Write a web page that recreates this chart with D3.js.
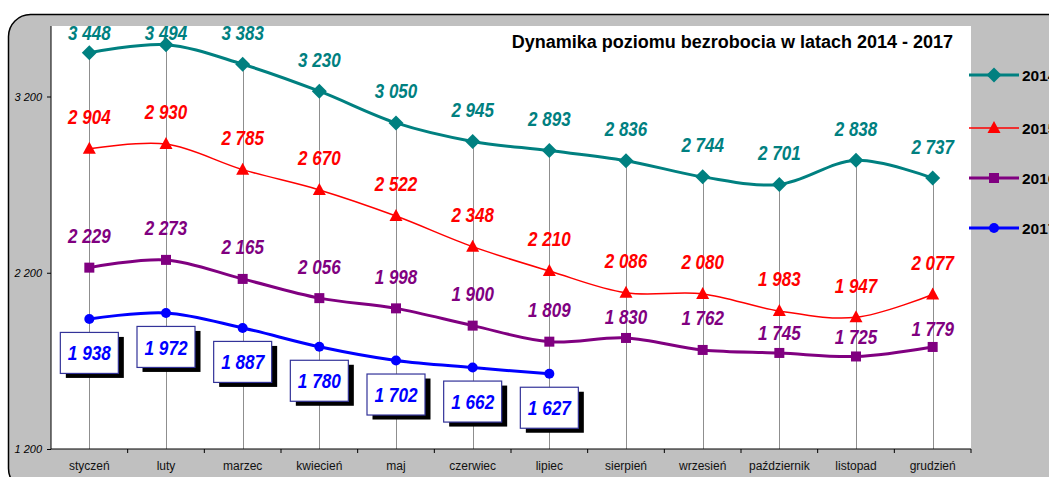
<!DOCTYPE html>
<html><head><meta charset="utf-8">
<script src="https://cdn.jsdelivr.net/npm/d3@7"></script>
<style>html,body{margin:0;padding:0;background:#fff;overflow:hidden}svg{display:block}</style>
</head><body>
<script>
const months = ["styczeń","luty","marzec","kwiecień","maj","czerwiec","lipiec","sierpień","wrzesień","październik","listopad","grudzień"];
const years = ["2014","2015","2016","2017"];
const v2014 = [3448,3494,3383,3230,3050,2945,2893,2836,2744,2701,2838,2737];
const v2015 = [2904,2930,2785,2670,2522,2348,2210,2086,2080,1983,1947,2077];
const v2016 = [2229,2273,2165,2056,1998,1900,1809,1830,1762,1745,1725,1779];
const v2017 = [1938,1972,1887,1780,1702,1662,1627];
const yTicks = [1200,2200,3200];
const title = "Dynamika poziomu bezrobocia w latach 2014 - 2017";

(function () {
const W = 1049, H = 477;
const svg = d3.select("body").append("svg").attr("width", W).attr("height", H);
const fmt = v => d3.format(",")(v).replace(/,/g, " ");
const FONT = "Liberation Sans, Arial, sans-serif";

svg.append("rect").attr("x", 8.5).attr("y", 14.5).attr("width", 1120).attr("height", 476)
  .attr("rx", 22).attr("fill", "#C0C0C0").attr("stroke", "#000").attr("stroke-width", 1.5);

const pL = 51, pR = 971, pT = 26, pB = 449;
svg.append("rect").attr("x", pL).attr("y", pT).attr("width", pR - pL).attr("height", pB - pT).attr("fill", "#fff");

const x = d3.scaleBand().domain(months).range([pL, pR]);
const y = d3.scaleLinear().domain([1200, 3600]).range([pB, pT]);
const cx = m => x(m) + x.bandwidth() / 2;

const series = [
  {name: years[0], values: v2014, color: "#008080", width: 3, marker: "diamond", labelOff: -32},
  {name: years[1], values: v2015, color: "#FF0000", width: 1.5, marker: "triangle", labelOff: -32},
  {name: years[2], values: v2016, color: "#800080", width: 3, marker: "square", labelOff: -32},
  {name: years[3], values: v2017, color: "#0000FF", width: 3, marker: "circle", labelOff: 34}
];
const nudge2016 = {7: 11, 9: 12, 10: 12, 11: 14};

months.forEach((m, i) => {
  svg.append("line").attr("x1", Math.round(cx(m)) + 0.5).attr("x2", Math.round(cx(m)) + 0.5)
    .attr("y1", y(v2014[i])).attr("y2", pB).attr("stroke", "#8f8f8f").attr("stroke-width", 1);
});

const gy = svg.append("g").attr("transform", `translate(${pL},0)`)
  .call(d3.axisLeft(y).tickValues(yTicks).tickSize(4).tickFormat(fmt));
gy.select(".domain").attr("stroke", "#000").attr("d", `M0,${pT}V${pB}`);
gy.selectAll(".tick line").attr("stroke", "#000");
gy.selectAll("text").attr("font-family", FONT).attr("font-size", "11px")
  .attr("font-style", "italic").attr("fill", "#000").attr("x", -9);

const gx = svg.append("g").attr("transform", `translate(0,${pB})`)
  .call(d3.axisBottom(x).tickSize(0).tickPadding(0));
gx.select(".domain").attr("stroke", "#000").attr("d", `M${pL},0H${pR}`);
gx.selectAll("text").attr("font-family", FONT).attr("font-size", "12px")
  .attr("fill", "#111").attr("y", 21).attr("dy", 0);
d3.range(1, months.length + 1).forEach(k => {
  const xx = pL + k * x.bandwidth();
  svg.append("line").attr("x1", xx).attr("x2", xx).attr("y1", pB).attr("y2", pB + 4).attr("stroke", "#000");
});

function drawMarker(g, type, px, py, color) {
  if (type === "diamond") g.append("path").attr("d", `M${px},${py-7.5}L${px+7.5},${py}L${px},${py+7.5}L${px-7.5},${py}Z`).attr("fill", color);
  else if (type === "triangle") g.append("path").attr("d", `M${px},${py-7}L${px+6.5},${py+5}L${px-6.5},${py+5}Z`).attr("fill", color);
  else if (type === "square") g.append("rect").attr("x", px-5).attr("y", py-5).attr("width", 10).attr("height", 10).attr("fill", color);
  else g.append("circle").attr("cx", px).attr("cy", py).attr("r", 5).attr("fill", color);
}

const line = d3.line().curve(d3.curveCatmullRom.alpha(0.5));
series.forEach(s => {
  const pts = s.values.map((v, i) => [cx(months[i]), y(v)]);
  svg.append("path").attr("d", line(pts)).attr("fill", "none").attr("stroke", s.color).attr("stroke-width", s.width);
  const g = svg.append("g");
  pts.forEach(p => drawMarker(g, s.marker, p[0], p[1], s.color));
});

// narrow bold italic label (Arial Narrow look)
function label(px, py, txt, color, size, sx) {
  svg.append("g").attr("transform", `translate(${px},${py}) scale(${sx},1)`)
    .append("text").attr("x", 0).attr("y", 0).attr("dy", "0.36em").attr("text-anchor", "middle")
    .attr("font-family", FONT).attr("font-size", size + "px").attr("font-weight", "bold")
    .attr("font-style", "italic").attr("fill", color).text(txt);
}

series.forEach(s => {
  s.values.forEach((v, i) => {
    const px = cx(months[i]), py = y(v);
    if (s.name === "2017") {
      const bw = 58, bh = 41, cyy = py + s.labelOff;
      svg.append("rect").attr("x", px - bw/2 + 5.5).attr("y", cyy - bh/2 + 4.5).attr("width", bw).attr("height", bh).attr("fill", "#000");
      svg.append("rect").attr("x", px - bw/2).attr("y", cyy - bh/2).attr("width", bw).attr("height", bh)
        .attr("fill", "#fff").attr("stroke", "#333399").attr("stroke-width", 1.2);
      label(px, cyy, fmt(v), s.color, 21, 0.82);
    } else {
      let cyy = py + s.labelOff;
      if (s.name === "2016" && nudge2016[i]) cyy += nudge2016[i];
      cyy = Math.max(cyy, 33);
      label(px, cyy, fmt(v), s.color, 20.5, 0.83);
    }
  });
});

svg.append("text").attr("x", 953).attr("y", 48).attr("text-anchor", "end")
  .attr("font-family", FONT).attr("font-size", "18px").attr("font-weight", "bold")
  .attr("fill", "#000").text(title);

const legY = [75, 128, 178, 228];
series.forEach((s, i) => {
  const g = svg.append("g");
  g.append("line").attr("x1", 969).attr("x2", 1019).attr("y1", legY[i]).attr("y2", legY[i]).attr("stroke", s.color).attr("stroke-width", s.width);
  drawMarker(g, s.marker, 994, legY[i], s.color);
  g.append("text").attr("x", 1022).attr("y", legY[i]).attr("dy", "0.36em")
    .attr("font-family", FONT).attr("font-size", "15.5px").attr("font-weight", "bold")
    .attr("fill", "#000").text(s.name);
});
})();
</script>
</body></html>
